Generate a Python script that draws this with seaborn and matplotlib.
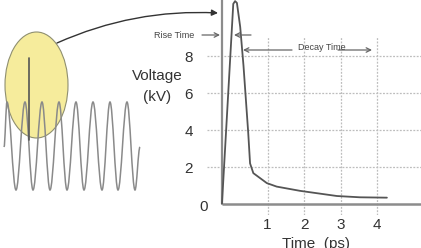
import matplotlib
matplotlib.use("Agg")
import matplotlib.pyplot as plt
import seaborn as sns
import pandas as pd
import numpy as np
from matplotlib.patches import Ellipse, PathPatch
from matplotlib.path import Path

# pulse data (time in ps, voltage in kV)
pulse_t = [-0.25, 0.06, 0.11, 0.16, 0.25, 0.34, 0.47, 0.52, 0.61, 0.98, 1.25, 1.89, 2.9, 3.53, 4.27]
pulse_v = [0.0, 10.85, 11.0, 10.9, 9.6, 7.5, 3.85, 2.2, 1.67, 1.13, 0.94, 0.71, 0.43, 0.36, 0.34]
x_ticks = [1, 2, 3, 4]
y_ticks = [2, 4, 6, 8]

# left-hand illustration: sine wave extrema (figure pixels) and the spike
wave_x = [4, 7, 16, 25, 33, 42, 50, 59, 67, 76, 84, 93, 102, 110, 118, 127, 135, 140]
wave_y = [147, 102, 190, 102, 190, 102, 190, 102, 190, 102, 190, 102, 190, 102, 190, 102, 190, 147]
spike_x = 29
spike_y = [58, 140]

sns.set_style("white")
plt.rcParams['font.family'] = ['Liberation Sans', 'DejaVu Sans']
narrow = ['Liberation Sans Narrow', 'Liberation Sans', 'DejaVu Sans']

W, H = 421, 248
fig = plt.figure(figsize=(W / 100, H / 100), dpi=100)

# main chart axes
x0, x1 = -0.66, 5.205
y0, y1 = -0.6, 11.06
ax = fig.add_axes([207 / W, (H - 215) / H, 214 / W, 215 / H])
ax.set_xlim(x0, x1)
ax.set_ylim(y0, y1)
for s in ax.spines.values():
    s.set_visible(False)
ax.patch.set_alpha(0)

grid_kw = dict(color='#bdbdbd', lw=0.9, linestyle=(0, (1.5, 1.2)), zorder=1)
ax.hlines(y_ticks, x0, x1, **grid_kw)
ax.vlines(x_ticks, y0, 9.05, **grid_kw)

# axes lines
ax.plot([-0.25, -0.25], [0, y1], color='#8c8c8c', lw=1.6, zorder=2, solid_capstyle='butt')
ax.plot([-0.25, x1], [0, 0], color='#8c8c8c', lw=1.8, zorder=2, solid_capstyle='butt')

df = pd.DataFrame({'t': pulse_t, 'v': pulse_v})
sns.lineplot(data=df, x='t', y='v', ax=ax, color='#555555', lw=1.3, sort=False, zorder=3)
ax.set_xlabel('')
ax.set_ylabel('')

ax.set_xticks(x_ticks)
ax.set_xticklabels([str(v) for v in x_ticks])
ax.set_yticks(y_ticks)
ax.set_yticklabels([str(v) for v in y_ticks])
ax.tick_params(axis='x', length=0, pad=2, labelsize=11, labelcolor='#333333')
ax.tick_params(axis='y', length=0, pad=10, labelsize=11, labelcolor='#333333')

# overlay axes in figure pixels for the illustration and annotations
ov = fig.add_axes([0, 0, 1, 1])
ov.set_xlim(0, W)
ov.set_ylim(H, 0)
ov.axis('off')
ov.patch.set_alpha(0)

ov.add_patch(Ellipse((36.5, 85), 63, 106, facecolor='#f6ec9c', edgecolor='#8f8f70', lw=0.8, zorder=1))

verts = [(wave_x[0], wave_y[0])]
codes = [Path.MOVETO]
for i in range(1, len(wave_x)):
    xa, ya = wave_x[i - 1], wave_y[i - 1]
    xb, yb = wave_x[i], wave_y[i]
    dx = xb - xa
    verts += [(xa + 0.36 * dx, ya), (xb - 0.36 * dx, yb), (xb, yb)]
    codes += [Path.CURVE4] * 3
ov.add_patch(PathPatch(Path(verts, codes), facecolor='none', edgecolor='#8a8a8a', lw=1.1, zorder=2))
ov.plot([spike_x, spike_x], spike_y, color='#555555', lw=1.2, zorder=3)

# big curved arrow from the circle to the pulse
ov.annotate('', xy=(218, 13), xytext=(57, 43),
            arrowprops=dict(arrowstyle='-|>', color='#333333', lw=1.0, mutation_scale=9,
                            connectionstyle='arc3,rad=-0.12', shrinkA=0, shrinkB=0))

# axis text
ov.text(157, 76, 'Voltage', ha='center', va='center', fontsize=11, color='#333333')
ov.text(157, 97, '(kV)', ha='center', va='center', fontsize=11, color='#333333')
ov.text(204, 207, '0', ha='center', va='center', fontsize=11, color='#333333')
ov.text(282, 237, 'Time  (ps)', ha='left', va='top', fontsize=11, color='#333333')

# rise / decay annotations
arr = dict(arrowstyle='->', color='#666666', lw=0.9, mutation_scale=8, shrinkA=0, shrinkB=0)
ov.text(174, 36, 'Rise Time', ha='center', va='center', fontsize=6.5, color='#444444', family=narrow)
ov.annotate('', xy=(220, 35), xytext=(202, 35), arrowprops=arr)
ov.annotate('', xy=(234, 35), xytext=(251, 35), arrowprops=arr)
ov.annotate('', xy=(243, 50), xytext=(292, 50), arrowprops=arr)
ov.annotate('', xy=(372, 50), xytext=(338, 50), arrowprops=arr)
ov.text(322, 48, 'Decay Time', ha='center', va='center', fontsize=6.5, color='#444444', family=narrow)

fig.savefig('out.png', dpi=100)
